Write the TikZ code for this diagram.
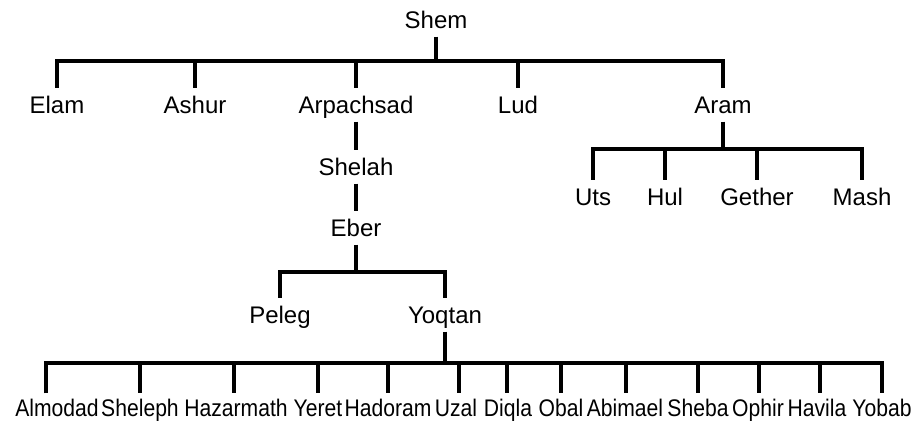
\documentclass[tikz,border=0pt]{standalone}
\usepackage{fontspec}
\usepackage{graphicx}
\setmainfont{Liberation Sans}
\begin{document}
\begin{tikzpicture}[x=1pt,y=-1pt,
  lab/.style={anchor=base,inner xsep=0pt,inner ysep=7pt,text height=18pt,text depth=1.5pt,
    font=\fontsize{24}{28}\selectfont},
  conn/.style={line width=3.2pt,black,line join=miter},
  narrow/.style={lab,inner ysep=4.5pt}]
\useasboundingbox (0,0) rectangle (917,423);
\newcommand{\nar}[1]{\scalebox{0.88}[1]{#1}}
% level 0
\node[lab] (shem) at (436,28) {Shem};
% level 1
\node[lab] (elam) at (57,113) {Elam};
\node[lab] (ashur) at (195,113) {Ashur};
\node[lab] (arp) at (356,113) {Arpachsad};
\node[lab] (lud) at (518,113) {Lud};
\node[lab] (aram) at (723,113) {Aram};
% Aram's sons
\node[lab] (uts) at (593,205) {Uts};
\node[lab] (hul) at (665,205) {Hul};
\node[lab] (gether) at (757,205) {Gether};
\node[lab] (mash) at (862,205) {Mash};
% line of Arpachsad
\node[lab] (shelah) at (356,175) {Shelah};
\node[lab] (eber) at (356,236) {Eber};
\node[lab] (peleg) at (280,323) {Peleg};
\node[lab] (yoqtan) at (445,323) {Yoqtan};
% Yoqtan's sons
\node[narrow] (n1) at (57,416) {\nar{Almodad}};
\node[narrow] (n2) at (140,416) {\nar{Sheleph}};
\node[narrow] (n3) at (236,416) {\nar{Hazarmath}};
\node[narrow] (n4) at (318,416) {\nar{Yeret}};
\node[narrow] (n5) at (388,416) {\nar{Hadoram}};
\node[narrow] (n6) at (456,416) {\nar{Uzal}};
\node[narrow] (n7) at (508,416) {\nar{Diqla}};
\node[narrow] (n8) at (561,416) {\nar{Obal}};
\node[narrow] (n9) at (625,416) {\nar{Abimael}};
\node[narrow] (n10) at (698,416) {\nar{Sheba}};
\node[narrow] (n11) at (758,416) {\nar{Ophir}};
\node[narrow] (n12) at (817,416) {\nar{Havila}};
\node[narrow] (n13) at (882,416) {\nar{Yobab}};
% bar levels
\coordinate (topbar) at (0,61);
\coordinate (arambar) at (0,149);
\coordinate (eberbar) at (0,272);
% stub positions of the bottom row
\coordinate (s1) at (46,363);
\coordinate (s2) at (140,363);
\coordinate (s3) at (234,363);
\coordinate (s4) at (318,363);
\coordinate (s5) at (388,363);
\coordinate (s6) at (459,363);
\coordinate (s7) at (507,363);
\coordinate (s8) at (561,363);
\coordinate (s9) at (626,363);
\coordinate (s10) at (698,363);
\coordinate (s11) at (759,363);
\coordinate (s12) at (820,363);
\coordinate (s13) at (882,363);
% Shem's family
\draw[conn] (shem.south) -- (shem.south |- topbar);
\draw[conn] (elam.north) |- (aram.north |- topbar) -- (aram.north);
\foreach \c in {ashur,arp,lud} \draw[conn] (\c.north) -- (\c.north |- topbar);
% Aram's family
\draw[conn] (aram.south) -- (aram.south |- arambar);
\draw[conn] (uts.north) |- (mash.north |- arambar) -- (mash.north);
\foreach \c in {hul,gether} \draw[conn] (\c.north) -- (\c.north |- arambar);
% Arpachsad line
\draw[conn] (arp.south) -- (shelah.north);
\draw[conn] (shelah.south) -- (eber.north);
\draw[conn] (eber.south) -- (eber.south |- eberbar);
\draw[conn] (peleg.north) |- (yoqtan.north |- eberbar) -- (yoqtan.north);
% Yoqtan's family
\draw[conn] (yoqtan.south) -- (yoqtan.south |- s1);
\draw[conn] (n1.north -| s1) -- (s1) -- (s13) -- (n13.north -| s13);
\foreach \i in {2,...,12} \draw[conn] (s\i) -- (n\i.north -| s\i);
\end{tikzpicture}
\end{document}
